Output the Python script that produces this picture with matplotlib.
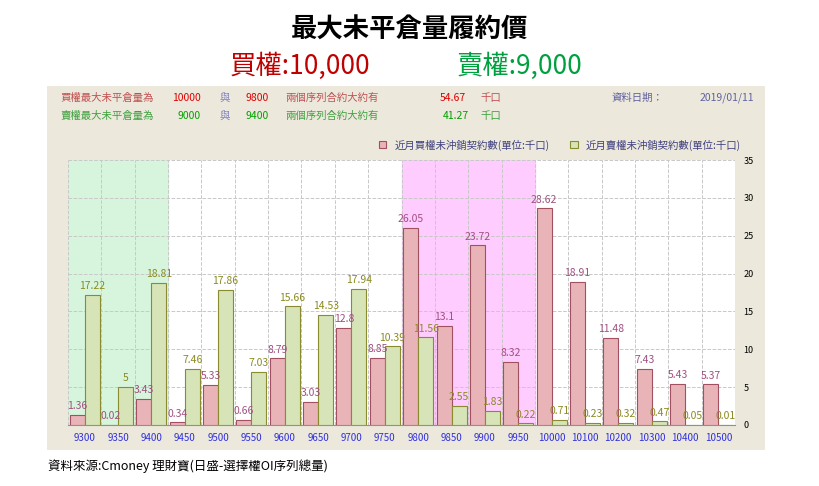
import matplotlib.pyplot as plt
import matplotlib.patches as mpatches
import numpy as np

plt.rcParams['font.family'] = ['Noto Sans CJK JP']

strikes = ['9300', '9350', '9400', '9450', '9500', '9550', '9600', '9650', '9700', '9750',
           '9800', '9850', '9900', '9950', '10000', '10100', '10200', '10300', '10400', '10500']
call_oi = [1.36, 0.02, 3.43, 0.34, 5.33, 0.66, 8.79, 3.03, 12.8, 8.85,
           26.05, 13.1, 23.72, 8.32, 28.62, 18.91, 11.48, 7.43, 5.43, 5.37]
put_oi = [17.22, 5, 18.81, 7.46, 17.86, 7.03, 15.66, 14.53, 17.94, 10.39,
          11.56, 2.55, 1.83, 0.22, 0.71, 0.23, 0.32, 0.47, 0.05, 0.01]

W, H = 819, 486
fig = plt.figure(figsize=(W / 100, H / 100), dpi=100)
fig.patch.set_facecolor('white')

def fx(x):
    return x / W

def fy(y):
    return 1 - y / H

fig.text(0.5, fy(30), '最大未平倉量履約價', ha='center', va='center', fontsize=19, fontweight='bold')
fig.text(fx(300), fy(66), '買權:10,000', ha='center', va='center', fontsize=19, color='#c00000')
fig.text(fx(520), fy(66), '賣權:9,000', ha='center', va='center', fontsize=19, color='#00a040')

# beige panel
bg = mpatches.Rectangle((fx(47), fy(450)), fx(765 - 47), (450 - 86) / H,
                        transform=fig.transFigure, facecolor='#ece9dc', edgecolor='none', zorder=-5)
fig.add_artist(bg)

fs = 7.5
y1, y2 = fy(98), fy(116)
fig.text(fx(60), y1, '買權最大未平倉量為', color='#c05050', fontsize=fs, va='center')
fig.text(fx(172), y1, '10000', color='#e00000', fontsize=fs, va='center')
fig.text(fx(220), y1, '與', color='#8080c0', fontsize=fs, va='center')
fig.text(fx(246), y1, '9800', color='#e00000', fontsize=fs, va='center')
fig.text(fx(285), y1, '兩個序列合約大約有', color='#c05050', fontsize=fs, va='center')
fig.text(fx(440), y1, '54.67', color='#e00000', fontsize=fs, va='center')
fig.text(fx(480), y1, '千口', color='#c05050', fontsize=fs, va='center')
fig.text(fx(612), y1, '資料日期：', color='#6060a0', fontsize=fs, va='center')
fig.text(fx(700), y1, '2019/01/11', color='#6060a0', fontsize=fs, va='center')
fig.text(fx(60), y2, '賣權最大未平倉量為', color='#40a040', fontsize=fs, va='center')
fig.text(fx(178), y2, '9000', color='#00a000', fontsize=fs, va='center')
fig.text(fx(220), y2, '與', color='#8080c0', fontsize=fs, va='center')
fig.text(fx(246), y2, '9400', color='#00a000', fontsize=fs, va='center')
fig.text(fx(285), y2, '兩個序列合約大約有', color='#40a040', fontsize=fs, va='center')
fig.text(fx(443), y2, '41.27', color='#00a000', fontsize=fs, va='center')
fig.text(fx(480), y2, '千口', color='#40a040', fontsize=fs, va='center')

ax = fig.add_axes([fx(68), fy(425), fx(735 - 68), (425 - 160) / H])
ax.set_zorder(2)
x = np.arange(len(strikes))
bw = 0.45
ax.axvspan(-0.5, 2.5, color='#d6f5dc', zorder=0)
ax.axvspan(9.5, 13.5, color='#ffccff', zorder=0)
ax.set_facecolor('white')
b1 = ax.bar(x - bw / 2, call_oi, bw, color='#e8b4b8', edgecolor='#a05060', linewidth=0.8, zorder=3,
            label='近月買權未沖銷契約數(單位:千口)')
b2 = ax.bar(x + bw / 2, put_oi, bw, color='#d6e4b8', edgecolor='#8a8a30', linewidth=0.8, zorder=3,
            label='近月賣權未沖銷契約數(單位:千口)')
for i in range(len(strikes)):
    ax.text(x[i] - bw / 2, call_oi[i] + 0.5, f'{call_oi[i]:g}', ha='center', va='bottom',
            fontsize=7.5, color='#a05080', zorder=4)
    ax.text(x[i] + bw / 2, put_oi[i] + 0.5, f'{put_oi[i]:g}', ha='center', va='bottom',
            fontsize=7.5, color='#8a8a20', zorder=4)

ax.set_xlim(-0.5, len(strikes) - 0.5)
ax.set_ylim(0, 35)
ax.set_yticks(range(0, 36, 5))
ax.yaxis.tick_right()
ax.tick_params(axis='y', labelsize=6.5, length=0, pad=6)
ax.set_xticks(x)
ax.set_xticklabels(strikes, fontsize=7, color='#3030e0')
ax.tick_params(axis='x', length=0, pad=6)
ax.set_xticks(np.arange(-0.5, len(strikes), 1), minor=True)
ax.tick_params(axis='x', which='minor', length=0)
ax.grid(True, which='minor', axis='x', linestyle='--', color='#c8c8c8', linewidth=0.7, zorder=1)
ax.grid(True, which='major', axis='y', linestyle='--', color='#c8c8c8', linewidth=0.7, zorder=1)
for s in ['top', 'right', 'left']:
    ax.spines[s].set_visible(False)
ax.spines['bottom'].set_color('#909090')

leg = fig.legend(handles=[b1, b2], loc='center', bbox_to_anchor=(fx(560), fy(145)), ncol=2,
                 frameon=False, fontsize=7.5, handlelength=0.7, handleheight=0.7, columnspacing=2)
for t in leg.get_texts():
    t.set_color('#404080')

fig.text(fx(48), fy(466), '資料來源:Cmoney 理財寶(日盛-選擇權OI序列總量)', fontsize=9, va='center')

fig.savefig('out.png', dpi=100)
